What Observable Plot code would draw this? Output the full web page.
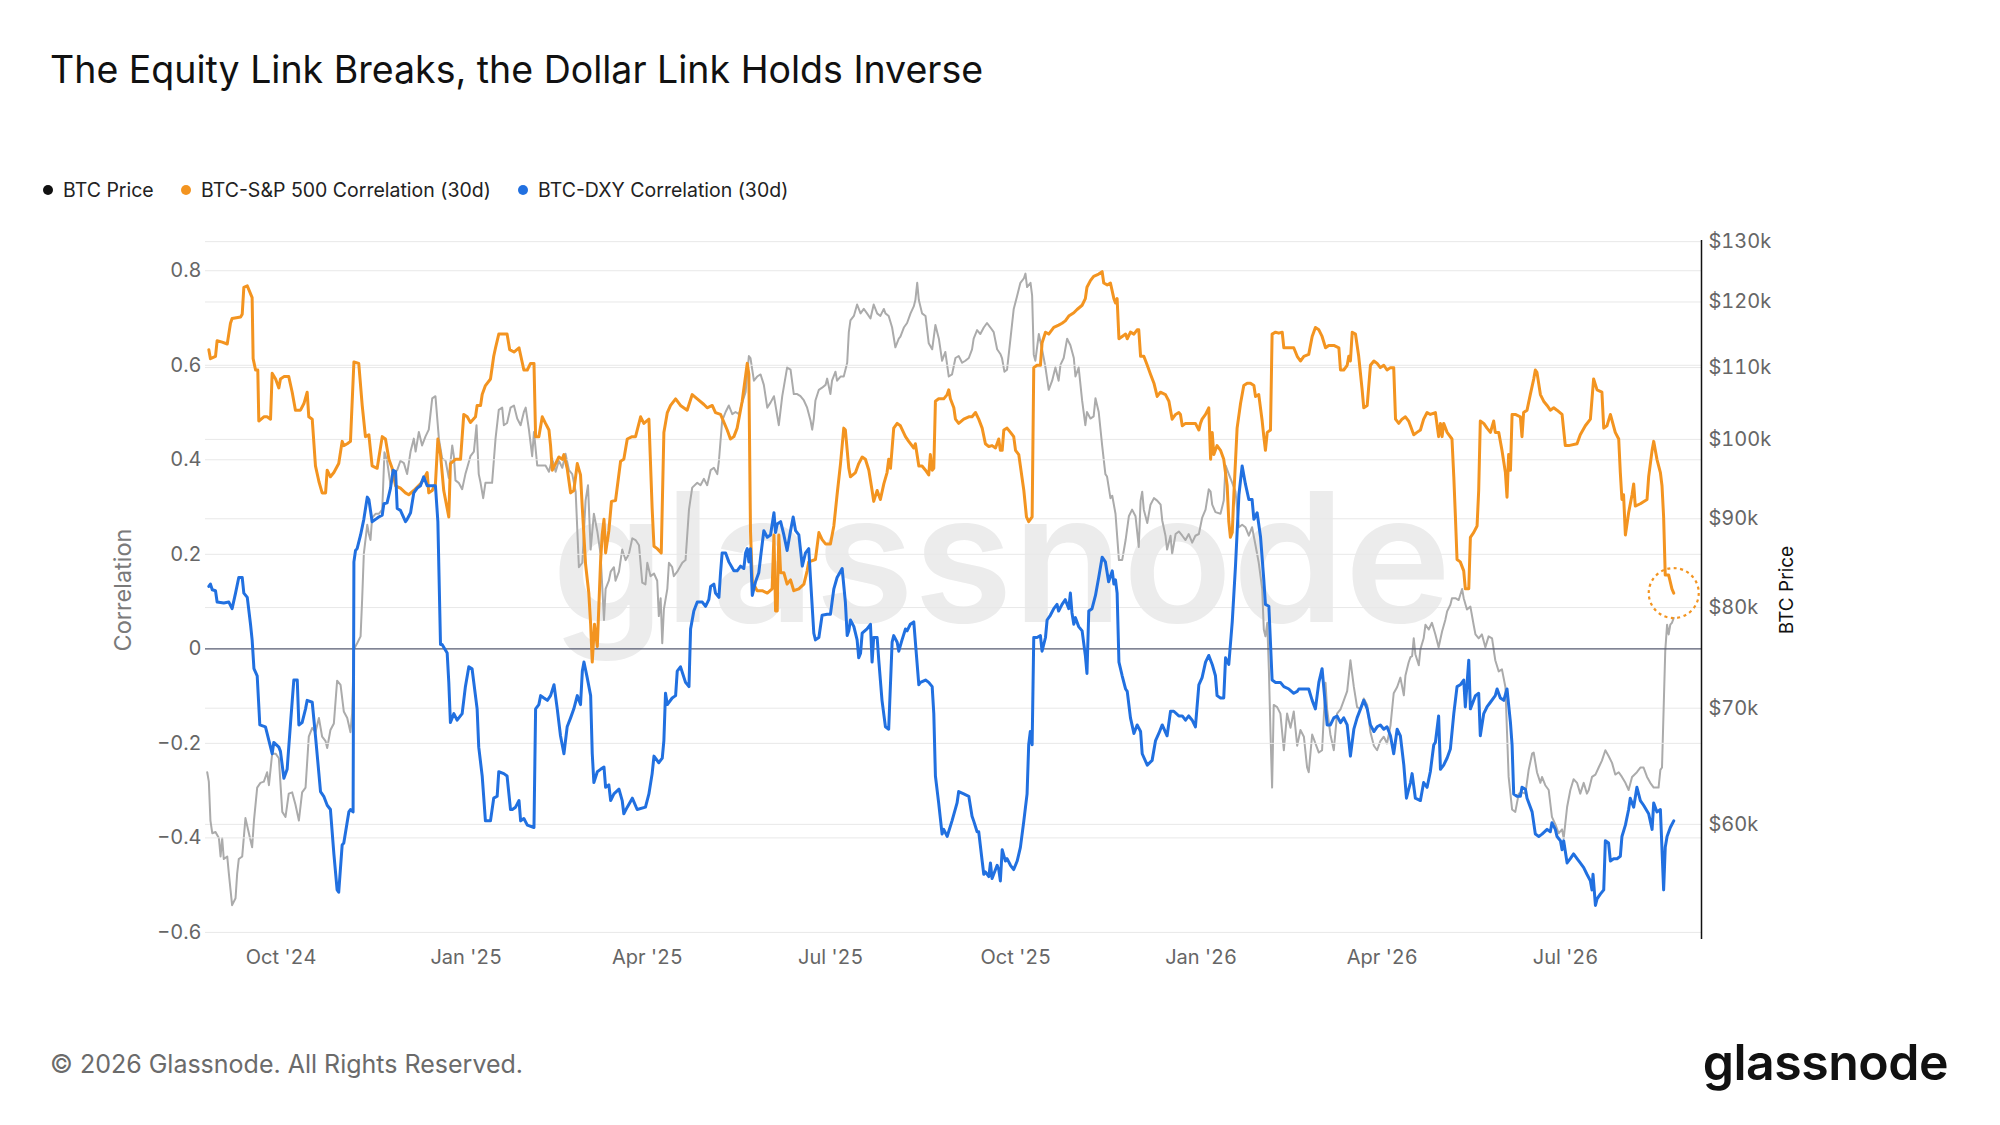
<!DOCTYPE html>
<html><head><meta charset="utf-8">
<script src="https://cdn.jsdelivr.net/npm/d3@7"></script>
<script src="https://cdn.jsdelivr.net/npm/@observablehq/plot@0.6"></script>
<style>
body{margin:0;background:#fff;}
#root{position:relative;width:2000px;height:1125px;overflow:hidden;font-family:Inter,"Noto Sans",sans-serif;background:#fff}
#title{position:absolute;left:50px;top:51px;font-size:37.5px;line-height:1;color:#111;white-space:nowrap}
.item{position:absolute;top:180px;height:20px;display:flex;align-items:center;font-size:19.5px;color:#222;white-space:nowrap}
.dot{width:10px;height:10px;border-radius:50%;margin-right:10px}
.layer{position:absolute;left:0;top:0}
#footer{position:absolute;left:50px;top:1052px;font-size:25px;line-height:1;color:#6b6b6b;white-space:nowrap}
#logo{position:absolute;right:52px;top:1037px;font-size:50px;line-height:1;font-weight:600;color:#111;letter-spacing:-0.5px}
</style></head>
<body>
<div id="root">
  <div id="chart"></div>
  <div id="title">The Equity Link Breaks, the Dollar Link Holds Inverse</div>
  <div id="legend"></div>
  <div id="footer">© 2026 Glassnode. All Rights Reserved.</div>
  <div id="logo">glassnode</div>
</div>
<script>
const startDate = "2024-08-25";
const legendLabels = ["BTC Price", "BTC-S&P 500 Correlation (30d)", "BTC-DXY Correlation (30d)"];
const legendColors = ["#111111", "#f39420", "#2170e0"];
const xTickDates = ["2024-10-01","2025-01-01","2025-04-01","2025-07-01","2025-10-01","2026-01-01","2026-04-01","2026-07-01"];
const corrTicks = [-0.6,-0.4,-0.2,0,0.2,0.4,0.6,0.8];
const priceTicks = [60,70,80,90,100,110,120,130];

const spxCorr = [[0.8,.633],[1.6,.614],[4.1,.619],[4.9,.652],[7.4,.649],[9.9,.645],[11.5,.689],[12.3,.699],[16.5,.702],[17.3,.708],[18.1,.765],[19.8,.768],[22.2,.743],[22.7,.614],[23.9,.590],[25.0,.590],[25.5,.482],[28.0,.491],[29.6,.491],[31.3,.486],[32.1,.583],[33.8,.571],[35.4,.552],[36.2,.571],[37.9,.576],[40.3,.576],[42.0,.543],[43.6,.505],[46.1,.505],[47.8,.519],[49.4,.543],[50.2,.491],[51.9,.486],[53.5,.387],[55.2,.354],[56.8,.330],[58.5,.330],[59.3,.378],[60.9,.364],[62.6,.373],[65.0,.392],[66.7,.439],[67.5,.430],[69.2,.434],[70.8,.439],[72.5,.607],[74.9,.604],[76.6,.515],[78.2,.449],[79.9,.453],[81.5,.387],[84.0,.382],[86.5,.449],[88.1,.444],[89.8,.401],[91.4,.382],[93.1,.345],[95.5,.340],[98.0,.330],[99.6,.326],[102.1,.335],[105.4,.349],[107.0,.359],[108.7,.373],[109.5,.330],[111.2,.335],[112.8,.349],[114.0,.444],[115.3,.411],[116.9,.335],[118.6,.297],[119.4,.279],[120.2,.392],[122.7,.401],[125.2,.401],[126.8,.496],[128.5,.491],[130.1,.479],[132.6,.491],[133.4,.515],[135.1,.515],[135.9,.538],[137.5,.557],[140.0,.571],[141.6,.619],[142.5,.637],[144.1,.666],[148.2,.666],[149.5,.633],
[151.6,.628],[154.1,.637],[156.5,.590],[158.2,.590],[159.8,.604],[161.5,.604],[162.3,.449],[163.9,.449],[165.6,.491],[167.2,.477],[168.9,.463],[169.7,.430],[170.5,.378],[172.2,.392],[173.8,.406],[175.5,.401],[176.3,.411],[177.9,.382],[179.6,.330],[181.2,.335],[182.9,.392],[184.5,.368],[185.4,.297],[187.0,.179],[188.6,.118],[189.5,.052],[190.3,-.028],[191.4,.052],[192.8,.005],[194.4,.184],[195.2,.241],[196.1,.274],[196.9,.203],[198.5,.250],[199.8,.312],[201.8,.314],[204.3,.397],[205.9,.401],[207.6,.444],[210.0,.449],[211.7,.449],[214.2,.491],[215.8,.477],[218.3,.486],[219.9,.297],[220.8,.217],[222.4,.212],[224.4,.203],[225.7,.458],[227.4,.500],[229.0,.515],[231.5,.529],[233.9,.515],[237.2,.505],[239.7,.538],[242.2,.529],[245.5,.517],[247.1,.510],[249.6,.515],[251.2,.500],[253.7,.496],[257.0,.463],[258.6,.444],[260.3,.449],[261.9,.467],[264.4,.524],[266.9,.604],[267.7,.581],[268.5,.250],[269.4,.142],[271.8,.123],[274.3,.123],[276.8,.118],[279.2,.127],[280.1,.241],[280.9,.080],[281.7,.080],[282.5,.241],[283.4,.161],[285.0,.161],[286.6,.137],[288.3,.146],[289.9,.123],[292.4,.127],[294.9,.137],[296.5,.165],
[297.3,.184],[300.6,.189],[302.3,.246],[303.9,.231],[305.6,.222],[308.0,.222],[309.7,.260],[311.3,.326],[313.0,.392],[314.6,.467],[315.4,.463],[317.1,.382],[317.9,.364],[320.4,.373],[322.0,.392],[323.7,.406],[325.3,.401],[327.0,.378],[328.6,.335],[329.4,.312],[331.1,.335],[332.7,.316],[334.4,.349],[336.0,.373],[336.8,.401],[337.7,.382],[339.3,.467],[341.0,.477],[342.6,.472],[345.1,.449],[346.7,.439],[349.2,.425],[350.0,.434],[351.7,.387],[353.3,.387],[355.0,.378],[356.6,.368],[357.4,.411],[358.3,.378],[359.1,.382],[359.9,.524],[361.5,.529],[364.0,.529],[365.7,.538],[366.5,.548],[367.3,.529],[369.0,.510],[369.8,.486],[371.4,.477],[373.9,.486],[376.4,.491],[378.0,.491],[379.7,.500],[381.3,.486],[383.0,.467],[384.6,.434],[386.3,.428],[387.9,.430],[389.6,.425],[391.2,.444],[392.0,.420],[392.9,.420],[393.7,.463],[395.3,.467],[397.0,.458],[398.6,.449],[399.5,.420],[401.1,.411],[403.6,.335],[404.9,.279],[406.0,.269],[407.7,.279],[408.5,.595],[410.1,.600],[411.8,.600],[412.6,.647],[414.3,.670],[415.9,.666],[418.4,.680],[420.8,.685],[422.5,.689],[424.1,.694],[425.8,.704],[428.3,.711],[429.9,.718],[432.4,.727],[434.0,.741],[434.8,.765],[436.5,.779],[438.1,.788],[440.6,.793],[442.3,.798],
[443.1,.774],[444.8,.770],[446.4,.774],[448.1,.741],[448.9,.732],[449.7,.741],[450.6,.656],[452.2,.661],[453.9,.666],[454.7,.656],[456.3,.670],[458.0,.666],[459.6,.675],[460.4,.675],[461.3,.619],[462.9,.619],[464.6,.600],[466.2,.581],[467.9,.562],[469.5,.534],[471.1,.543],[473.6,.538],[475.3,.524],[476.9,.486],[478.6,.496],[480.2,.500],[481.0,.496],[481.9,.472],[483.5,.477],[486.0,.477],[488.4,.477],[490.1,.463],[490.9,.477],[491.7,.486],[493.4,.496],[495.0,.510],[495.9,.401],[496.7,.458],[497.5,.411],[499.1,.430],[500.8,.420],[502.4,.401],[504.1,.345],[504.9,.269],[505.7,.236],[506.6,.246],[507.4,.326],[509.0,.467],[510.7,.519],[512.3,.557],[514.0,.562],[515.6,.562],[517.3,.557],[518.1,.534],[519.7,.538],[521.4,.482],[522.2,.449],[523.0,.420],[523.9,.458],[525.5,.463],[526.3,.666],[528.0,.670],[529.6,.668],[531.3,.670],[532.1,.637],[534.6,.637],[537.0,.637],[538.7,.619],[540.3,.609],[542.0,.619],[544.4,.623],[546.1,.661],[547.7,.680],[549.4,.675],[551.0,.661],[552.7,.637],[554.3,.642],[556.8,.642],[559.3,.637],[560.1,.590],[561.7,.590],[563.4,.600],[564.2,.619],[565.0,.609],[565.9,.670],[567.5,.666],[569.1,.619],[570.8,.548],[571.6,.510],[573.3,.515],[574.9,.600],[576.6,.609],[578.2,.604],[579.8,.595],[581.5,.600],[583.1,.590],[584.8,.595],[586.4,.595],[587.3,.486],[588.9,.477],[590.5,.486],[592.2,.491],[593.8,.482],
[596.3,.453],[597.9,.458],[599.6,.463],[601.2,.486],[602.9,.500],[604.5,.496],[607.0,.500],[608.6,.449],[609.5,.477],[610.3,.449],[611.1,.477],[612.8,.458],[615.2,.444],[616.1,.364],[616.9,.279],[617.7,.189],[619.3,.184],[621.0,.165],[621.8,.127],[623.5,.127],[624.3,.236],[625.9,.246],[627.6,.260],[628.4,.335],[629.2,.482],[630.9,.477],[632.5,.467],[634.2,.458],[635.8,.482],[636.6,.458],[638.3,.458],[639.9,.420],[641.6,.373],[642.4,.321],[643.2,.411],[644.1,.378],[644.9,.496],[646.5,.496],[649.0,.491],[649.8,.449],[650.6,.500],[652.3,.505],[653.9,.538],[655.6,.571],[656.4,.590],[657.2,.585],[658.9,.538],[660.5,.524],[662.2,.515],[663.8,.505],[665.5,.510],[667.1,.505],[669.6,.496],[671.2,.430],[672.9,.430],[677.0,.434],[678.6,.453],[681.1,.472],[683.6,.486],[685.2,.571],[686.9,.548],[689.3,.543],[690.2,.467],[691.8,.472],[693.5,.496],[695.9,.458],[697.6,.444],[698.4,.373],[699.2,.316],[700.0,.326],[700.9,.241],[702.5,.288],[704.2,.326],[705.0,.349],[705.8,.302],[708.3,.307],[711.6,.316],[712.4,.364],[714.1,.420],[714.9,.439],[716.5,.401],[718.2,.373],[719.0,.345],[719.8,.279],[720.6,.156],[722.3,.156],[723.9,.127],[724.8,.118]];

const dxyCorr = [[0.8,.132],[1.6,.137],[2.5,.125],[4.1,.123],[4.9,.099],[8.2,.097],[10.7,.099],[12.3,.085],[14.0,.118],[15.6,.151],[17.3,.151],[18.1,.118],[19.8,.109],[21.4,.052],[22.2,.019],[23.1,-.042],[24.7,-.057],[26.0,-.161],[28.8,-.165],[30.5,-.194],[32.1,-.222],[32.9,-.198],[35.4,-.208],[36.2,-.217],[37.9,-.274],[39.5,-.255],[41.2,-.156],[42.8,-.066],[44.5,-.066],[45.3,-.161],[46.9,-.156],[48.6,-.127],[49.4,-.109],[51.9,-.113],[53.5,-.184],[56.0,-.302],[57.6,-.312],[59.3,-.331],[60.9,-.340],[62.6,-.434],[64.2,-.510],[65.0,-.515],[66.7,-.415],[67.5,-.411],[70.0,-.345],[70.8,-.340],[72.1,-.345],[72.5,.184],[73.3,.208],[74.1,.212],[75.8,.241],[77.4,.274],[79.1,.321],[79.9,.316],[81.5,.269],[83.2,.274],[84.8,.279],[86.5,.283],[87.3,.307],[88.9,.309],[90.6,.340],[91.9,.378],[93.1,.375],[93.9,.297],[95.5,.293],[98.0,.269],[98.8,.274],[100.5,.288],[102.1,.330],[103.8,.340],[105.4,.345],[107.0,.364],[108.7,.345],[110.3,.345],[112.8,.345],[114.0,.269],[115.3,.009],[116.1,.009],[118.6,-.009],[119.4,-.071],[120.2,-.156],[121.9,-.137],[123.5,-.151],[126.0,-.137],[127.6,-.080],[129.3,-.038],[130.9,-.042],[133.4,-.127],[134.2,-.208],[135.9,-.269],[137.5,-.364],[140.0,-.364],[141.6,-.316],[143.3,-.312],[144.1,-.260],[146.6,-.264],[148.2,-.269],[149.9,-.340],
[150.8,-.340],[152.4,-.335],[154.1,-.321],[154.9,-.364],[156.5,-.359],[158.2,-.373],[161.5,-.378],[162.3,-.127],[163.9,-.118],[164.8,-.099],[166.4,-.104],[168.1,-.109],[169.7,-.099],[171.4,-.076],[173.0,-.127],[174.6,-.184],[176.3,-.222],[177.9,-.165],[179.6,-.146],[181.2,-.127],[182.9,-.099],[184.5,-.118],[185.4,-.047],[186.2,-.028],[187.8,-.061],[189.5,-.099],[190.3,-.222],[191.1,-.283],[192.8,-.260],[194.4,-.255],[196.1,-.250],[196.9,-.293],[198.5,-.288],[199.4,-.321],[201.0,-.307],[203.5,-.297],[205.1,-.321],[205.9,-.349],[207.6,-.335],[210.1,-.316],[212.5,-.340],[216.6,-.335],[218.3,-.307],[219.9,-.264],[220.8,-.227],[223.2,-.241],[224.9,-.231],[225.7,-.194],[226.5,-.094],[227.4,-.118],[229.8,-.104],[231.5,-.099],[232.3,-.047],[233.9,-.038],[236.4,-.071],[238.1,-.080],[238.9,.042],[240.5,.080],[242.2,.099],[244.7,.099],[246.3,.090],[247.9,.104],[248.8,.132],[250.4,.137],[251.2,.118],[252.9,.109],[253.7,.161],[254.5,.203],[256.2,.203],[257.8,.184],[260.3,.165],[261.9,.165],[263.6,.175],[265.2,.170],[266.1,.203],[266.9,.212],[267.7,.184],[268.5,.212],[269.4,.113],[271.0,.142],[272.6,.161],[273.5,.194],[275.1,.250],[276.8,.236],[278.4,.241],[280.1,.288],[280.9,.246],[281.7,.264],[283.4,.269],[285.0,.241],[286.6,.208],[288.3,.250],[289.6,.279],[290.8,.250],[292.4,.241],[294.1,.175],[295.7,.203],[297.3,.212],[298.2,.146],
[299.8,.033],[300.6,.019],[302.3,.024],[303.9,.071],[306.4,.073],[308.0,.073],[309.7,.127],[311.3,.151],[313.8,.170],[315.4,.099],[316.3,.028],[317.1,.038],[317.9,.061],[319.6,.047],[321.2,.019],[322.0,-.019],[322.9,-.009],[323.7,.033],[326.1,.042],[327.8,.052],[328.6,-.028],[329.4,.024],[331.1,.024],[331.9,-.024],[333.5,-.109],[335.2,-.165],[336.8,-.170],[338.5,.014],[339.3,.028],[341.0,.014],[341.8,-.005],[343.4,.019],[345.1,.042],[345.9,.038],[347.5,.052],[349.2,.057],[351.7,-.076],[352.5,-.071],[355.0,-.066],[356.6,-.071],[358.3,-.080],[359.1,-.137],[359.9,-.269],[361.5,-.326],[363.2,-.392],[364.0,-.382],[365.7,-.397],[368.1,-.364],[370.6,-.326],[371.4,-.302],[373.9,-.307],[376.4,-.312],[378.0,-.354],[378.8,-.364],[380.5,-.387],[381.3,-.387],[383.0,-.449],[383.8,-.477],[384.6,-.472],[386.3,-.482],[387.1,-.453],[387.9,-.486],[388.7,-.477],[390.4,-.458],[391.2,-.467],[392.0,-.491],[392.9,-.425],[394.5,-.449],[395.3,-.444],[397.0,-.458],[398.6,-.467],[400.3,-.449],[401.9,-.420],[403.6,-.364],[405.2,-.307],[406.0,-.203],[406.8,-.175],[407.7,-.203],[408.5,.024],[410.1,.024],[411.8,.028],[412.6,-.005],[414.3,.024],[415.1,.061],[416.7,.071],[418.4,.085],[420.0,.094],[420.8,.080],[422.5,.094],[424.1,.104],[425.8,.085],[426.6,.118],[427.4,.076],[428.3,.052],[429.1,.066],[430.7,.047],[432.4,.038],[434.0,-.014],[434.8,-.052],[435.7,.080],[437.3,.085],[439.0,.113],[440.6,.151],[442.3,.194],[443.9,.184],[445.5,.142],
[447.3,.165],[448.1,.137],[448.9,.146],[449.7,.118],[450.6,-.028],[452.2,-.057],[453.9,-.085],[454.7,-.090],[456.3,-.146],[458.0,-.179],[459.6,-.161],[461.3,-.175],[462.1,-.222],[464.6,-.246],[467.0,-.236],[468.7,-.194],[470.3,-.179],[472.0,-.161],[474.4,-.184],[476.1,-.132],[477.7,-.132],[480.2,-.142],[481.9,-.142],[483.5,-.151],[485.1,-.142],[486.8,-.151],[488.4,-.165],[490.1,-.076],[491.7,-.061],[493.4,-.028],[495.0,-.014],[496.7,-.033],[498.3,-.057],[499.1,-.099],[500.8,-.104],[502.4,-.104],[503.3,-.019],[504.9,-.033],[506.6,.057],[508.2,.175],[509.9,.326],[511.5,.387],[513.1,.349],[514.8,.316],[516.4,.316],[517.3,.274],[518.9,.288],[520.6,.236],[522.2,.146],[523.0,.094],[524.7,.090],[526.3,-.066],[528.0,-.071],[530.4,-.071],[532.1,-.080],[534.6,-.085],[537.0,-.094],[538.7,-.090],[539.5,-.085],[542.0,-.085],[544.4,-.085],[546.1,-.109],[547.7,-.127],[549.4,-.071],[551.0,-.042],[551.8,-.080],[553.5,-.161],[555.1,-.161],[556.8,-.146],[558.4,-.142],[560.1,-.156],[561.7,-.146],[563.4,-.161],[565.0,-.227],[566.7,-.170],[568.3,-.146],[570.0,-.127],[571.6,-.109],[573.3,-.127],[574.9,-.161],[576.6,-.175],[578.2,-.165],[579.8,-.161],[581.5,-.170],[583.1,-.165],[584.8,-.184],[586.4,-.222],[588.1,-.170],[589.7,-.184],[591.4,-.246],[592.7,-.316],[593.8,-.297],[594.7,-.283],
[595.5,-.264],[597.1,-.316],[599.6,-.321],[601.2,-.283],[602.9,-.293],[604.5,-.260],[606.2,-.203],[607.0,-.198],[608.6,-.142],[609.5,-.255],[611.1,-.246],[612.8,-.231],[614.4,-.212],[616.1,-.137],[617.7,-.080],[619.3,-.076],[621.0,-.066],[621.8,-.123],[623.5,-.024],[624.3,-.127],[625.9,-.109],[626.8,-.099],[628.4,-.094],[629.2,-.184],[630.9,-.137],[632.5,-.123],[634.2,-.113],[636.6,-.099],[637.5,-.085],[639.1,-.104],[640.8,-.109],[642.4,-.085],[644.1,-.156],[644.9,-.203],[645.7,-.307],[647.3,-.312],[649.0,-.312],[649.8,-.293],[651.5,-.297],[652.3,-.316],[654.8,-.345],[656.4,-.392],[658.1,-.397],[659.7,-.392],[662.2,-.382],[663.8,-.387],[664.6,-.368],[666.3,-.382],[667.1,-.397],[668.8,-.406],[669.6,-.425],[670.4,-.406],[672.1,-.453],[673.7,-.444],[675.3,-.434],[677.0,-.444],[678.6,-.453],[680.3,-.463],[681.9,-.477],[683.6,-.491],[684.4,-.510],[684.9,-.477],[686.1,-.543],[686.9,-.529],[688.5,-.519],[690.2,-.510],[691.0,-.406],[692.6,-.411],[693.5,-.449],[695.1,-.444],[696.8,-.444],[698.4,-.439],[699.2,-.397],[700.9,-.373],[702.5,-.340],[703.3,-.316],[705.0,-.335],[706.6,-.293],[708.3,-.321],[709.9,-.331],[712.4,-.349],[714.1,-.382],[714.9,-.326],[716.5,-.345],[718.2,-.340],[719.8,-.510],[720.6,-.420],[721.5,-.397],[723.1,-.378],[724.8,-.364]];

const btcPriceK = [[0.0,64.3],[0.8,63.5],[1.6,60.3],[2.5,59.3],[4.1,59.4],[5.8,58.9],[6.6,57.5],[7.4,58.9],[8.2,57.3],[9.9,57.5],[10.7,56.2],[12.3,53.9],[14.0,54.4],[14.8,56.2],[15.6,57.3],[17.3,57.5],[18.9,60.5],[20.6,59.3],[22.2,58.2],[23.1,60.3],[24.7,63.0],[26.3,63.4],[28.0,63.5],[29.6,64.3],[30.5,63.2],[32.1,65.9],[33.8,65.9],[35.4,65.5],[37.1,61.0],[38.7,60.6],[40.3,62.5],[42.0,62.6],[43.6,61.6],[45.3,60.3],[46.9,62.6],[48.6,63.0],[50.2,67.4],[51.9,68.2],[53.5,67.8],[55.2,69.1],[56.8,67.4],[58.5,67.0],[59.3,66.4],[60.9,68.0],[62.6,68.6],[64.2,72.6],[65.9,72.2],[67.5,69.7],[69.2,69.1],[70.8,67.8],[71.6,69.5],[72.5,75.7],[74.1,76.3],[75.8,77.0],[76.6,81.0],[77.4,85.9],[79.1,89.3],[79.9,88.2],[80.7,87.5],[81.5,90.1],[83.2,90.6],[84.8,90.6],[86.5,91.1],[87.6,98.3],[88.9,97.2],[90.6,94.1],[92.2,95.5],[93.9,96.0],[95.5,97.2],[97.2,96.9],[98.8,95.5],[100.5,98.4],[102.1,100.1],[103.0,98.4],[104.6,101.0],[106.2,99.2],[107.9,100.4],[109.5,101.3],[111.2,105.6],[112.8,105.9],[114.5,100.1],[116.1,97.5],[117.8,97.2],[119.4,95.0],[121.1,99.2],[121.9,97.8],[122.7,94.7],[124.3,94.4],[126.0,93.6],[127.6,95.5],[128.5,96.3],[130.1,97.8],[131.8,98.4],[133.1,101.9],[134.2,95.5],[135.1,94.4],[136.4,92.5],[137.5,94.4],[139.2,94.4],[140.8,94.4],[142.5,100.1],[144.1,104.0],[145.8,104.3],[146.6,101.9],[148.2,102.2],[149.9,104.3],
[151.6,104.6],[153.2,102.8],[154.9,101.9],[156.5,103.7],[157.4,104.3],[159.0,101.3],[160.6,97.8],[161.5,101.0],[163.1,96.6],[165.6,96.6],[167.2,96.6],[168.9,95.8],[170.5,97.5],[172.2,95.8],[173.8,97.2],[175.5,96.3],[177.1,98.1],[178.8,96.0],[180.4,95.5],[182.1,93.3],[183.7,84.4],[185.4,84.9],[187.0,92.2],[188.2,94.1],[189.5,86.4],[191.1,90.6],[192.8,88.5],[194.4,85.9],[196.1,78.7],[196.9,82.0],[198.5,82.9],[199.4,83.9],[201.0,84.4],[201.8,82.9],[203.5,83.9],[205.1,86.4],[206.8,85.2],[208.4,85.9],[210.1,87.7],[211.7,87.5],[213.4,86.9],[215.0,82.7],[216.6,82.5],[217.5,84.9],[219.1,83.4],[220.8,83.7],[222.4,82.9],[223.2,79.1],[224.1,81.0],[224.9,76.3],[225.7,79.8],[227.4,82.0],[228.2,84.9],[229.8,84.4],[230.6,83.4],[232.3,83.9],[234.8,84.9],[236.4,85.2],[238.1,91.1],[239.7,93.8],[242.2,94.4],[243.8,94.1],[245.5,94.9],[247.1,94.1],[248.8,96.0],[250.4,96.3],[252.1,95.5],[252.9,97.2],[254.5,102.5],[256.2,103.7],[257.8,104.6],[259.5,103.4],[261.1,103.7],[262.8,103.4],[264.4,105.0],[266.1,106.5],[267.7,111.7],[268.5,111.4],[270.2,108.1],[271.8,108.7],[273.5,109.0],[275.1,107.5],[276.8,104.3],[278.4,105.0],[280.1,105.9],[282.5,101.9],[284.2,105.9],[286.6,110.0],[288.3,109.7],[289.9,106.2],[291.6,106.2],[293.2,105.9],[294.9,105.3],[296.5,104.3],[298.2,102.5],
[299.0,101.3],[299.8,102.8],[300.6,105.3],[302.3,106.8],[303.9,107.1],[305.6,107.5],[306.4,108.4],[308.0,106.2],[308.8,108.1],[310.5,109.4],[311.3,108.1],[313.0,108.7],[314.6,108.7],[316.3,110.7],[317.1,115.3],[317.9,117.1],[319.6,117.8],[321.2,119.6],[322.9,118.2],[324.5,118.9],[326.1,118.2],[327.8,117.4],[329.4,119.6],[331.1,118.2],[332.7,117.8],[334.4,118.9],[335.2,118.2],[336.8,117.8],[338.5,116.0],[340.1,113.0],[341.8,114.3],[342.6,114.6],[344.3,116.0],[345.9,116.7],[347.6,118.2],[349.2,119.3],[350.0,120.3],[350.9,123.1],[351.7,120.3],[353.3,118.2],[355.0,117.8],[356.6,113.6],[358.3,112.7],[359.9,116.4],[361.6,114.3],[363.2,111.0],[364.8,112.3],[366.5,108.7],[368.1,109.0],[369.8,111.4],[371.4,111.7],[373.1,110.7],[374.7,111.0],[376.4,111.4],[378.0,112.7],[378.8,114.3],[380.5,115.6],[382.1,115.0],[383.8,116.0],[385.4,116.7],[387.1,116.0],[388.7,115.3],[390.4,112.7],[392.0,112.0],[392.8,111.4],[394.0,109.4],[395.3,109.7],[397.0,114.3],[398.6,118.9],[400.3,121.0],[401.9,123.1],[403.6,123.8],[404.4,124.6],[405.2,122.4],[406.9,123.1],[407.7,121.0],[408.5,111.9],[409.3,111.0],[411.0,115.0],[412.6,112.7],[414.3,110.0],[415.9,106.8],[417.6,108.1],[419.2,110.0],[420.8,108.1],[421.7,110.4],[423.3,111.4],[425.0,114.3],[426.6,113.3],[428.3,111.4],[429.1,108.7],[430.7,110.0],[432.4,105.3],[434.0,101.9],[434.8,103.7],[436.5,102.8],[438.1,103.1],[439.0,105.6],[440.6,103.7],[442.3,99.2],[443.9,95.5],[444.7,95.2],[446.4,92.5],[447.3,92.8],
[448.9,90.6],[450.6,85.2],[452.2,85.2],[453.9,87.5],[455.5,90.3],[457.1,91.1],[458.8,90.3],[460.4,86.7],[461.3,92.2],[462.1,93.3],[462.9,91.1],[464.6,89.5],[466.2,91.7],[467.9,92.5],[469.5,92.2],[471.2,91.7],[472.0,89.8],[473.6,88.0],[474.4,86.4],[476.1,88.0],[476.9,85.9],[478.6,88.2],[480.2,88.5],[481.9,88.0],[483.5,87.5],[485.1,88.2],[486.8,87.2],[488.4,88.0],[490.1,88.2],[491.7,90.1],[493.4,91.1],[495.0,93.6],[495.9,93.3],[496.7,91.7],[498.3,90.8],[500.8,90.6],[502.4,92.2],[503.3,96.6],[504.9,95.5],[506.6,94.4],[508.2,93.3],[509.9,89.0],[511.5,89.3],[513.1,89.0],[514.8,88.0],[516.4,89.0],[518.1,86.9],[519.7,84.9],[521.4,82.0],[522.2,77.7],[523.0,77.0],[523.9,78.4],[524.7,73.7],[525.5,67.8],[526.3,63.0],[527.1,70.3],[528.8,70.1],[530.4,69.5],[532.1,66.2],[533.7,69.5],[535.4,68.2],[537.0,69.7],[538.7,66.6],[540.3,68.0],[542.0,67.4],[543.6,64.7],[544.4,64.3],[546.1,67.6],[547.7,66.8],[549.4,66.0],[551.0,66.2],[552.7,72.4],[553.5,69.9],[555.1,67.6],[556.8,66.2],[558.4,69.5],[560.1,69.9],[561.7,70.7],[563.4,71.6],[565.0,74.6],[566.7,72.0],[568.3,70.1],[570.0,69.9],[571.6,70.9],[573.3,70.3],[574.9,67.8],[576.6,66.6],[578.2,66.2],[579.8,67.0],[581.5,67.4],[583.1,66.8],[584.8,68.4],[586.4,71.4],[588.1,72.0],[589.7,72.9],[591.4,71.2],[592.2,73.1],[593.8,74.4],[594.7,74.9],
[595.5,75.0],[596.3,76.8],[597.1,75.2],[598.8,74.1],[599.6,75.7],[601.2,76.8],[602.1,78.2],[603.7,77.7],[605.3,78.4],[607.0,77.2],[608.6,75.9],[610.3,77.5],[611.9,78.7],[612.8,79.6],[614.4,80.3],[615.2,81.0],[616.9,81.0],[618.5,80.8],[620.2,82.0],[621.0,81.0],[622.6,79.8],[624.3,80.1],[625.9,78.2],[626.8,77.2],[628.4,76.8],[630.0,77.2],[631.7,75.9],[633.3,77.0],[635.0,76.8],[636.6,74.6],[638.3,73.5],[639.9,73.7],[641.6,72.0],[642.4,67.8],[643.2,63.9],[644.9,61.2],[646.5,61.0],[648.2,62.5],[649.8,62.6],[651.5,62.5],[653.1,64.5],[654.8,65.9],[655.6,66.0],[657.2,64.3],[658.9,63.4],[659.7,63.9],[661.3,63.2],[663.0,62.8],[664.6,60.6],[666.3,60.0],[667.9,59.3],[669.6,59.6],[670.4,58.9],[672.1,61.4],[673.7,62.8],[675.3,63.7],[677.0,63.4],[678.6,62.5],[680.3,63.4],[681.9,62.5],[682.8,62.8],[684.4,63.9],[686.1,64.1],[687.7,64.7],[689.3,65.3],[691.0,66.2],[692.6,65.7],[694.3,65.1],[695.9,64.1],[697.6,64.3],[699.2,63.9],[700.9,63.4],[702.5,62.8],[704.2,63.9],[706.6,64.3],[708.3,64.7],[709.9,64.7],[711.6,63.9],[713.2,63.4],[714.9,63.0],[717.3,63.0],[718.2,64.5],[719.0,64.7],[719.8,69.9],[720.6,75.5],[721.5,78.2],[722.3,77.2],[723.1,78.2],[723.9,78.4],[724.8,78.9]];

// ---- build ----
// the read-off index runs slightly faster than calendar days: day = 0.3 + 1.00512 * index
const t0 = Date.parse(startDate + "T00:00:00Z");
const MS_DAY = 864e5;
const toDate = i => new Date(t0 + (0.3 + 1.00512 * i) * MS_DAY);
const xDomain = [new Date(t0 - 0.55 * MS_DAY), new Date(t0 + 742.6 * MS_DAY)];
const W = 2000, H = 1125;
const corrDomain = [-0.615, 0.864];
const priceDomain = [51.5, 130.2];

const spxTable = spxCorr.map(([d, v]) => ({date: toDate(d), value: v}));
const dxyTable = dxyCorr.map(([d, v]) => ({date: toDate(d), value: v}));
const btcTable = btcPriceK.map(([d, v]) => ({date: toDate(d), value: v}));
const spxLast = spxTable[spxTable.length - 1];

// legend
const legendX = [43, 181, 518];
const legendEl = document.getElementById("legend");
legendLabels.forEach((lab, i) => {
  const it = document.createElement("div");
  it.className = "item";
  it.style.left = legendX[i] + "px";
  const dot = document.createElement("span");
  dot.className = "dot";
  dot.style.background = legendColors[i];
  const txt = document.createElement("span");
  txt.textContent = lab;
  it.appendChild(dot); it.appendChild(txt);
  legendEl.appendChild(it);
});

const fontFamily = "Inter, 'Noto Sans', sans-serif";

const pricePlot = Plot.plot({
  width: W, height: H, marginTop: 240, marginRight: 299, marginBottom: 186, marginLeft: 205,
  style: {background: "white", fontFamily, overflow: "visible"},
  x: {type: "utc", domain: xDomain, axis: null},
  y: {type: "log", domain: priceDomain, axis: null},
  marks: [
    Plot.text(["glassnode"], {text: d => d, frameAnchor: "middle", textAnchor: "middle", dx: 48, dy: -26, fontSize: 180, fontWeight: 600, fill: "#ececec"}),
    Plot.gridY(priceTicks, {stroke: "#e8e8e8", strokeOpacity: 1}),
    Plot.line(btcTable, {x: "date", y: "value", stroke: "#ababab", strokeWidth: 2}),
    Plot.axisY(priceTicks, {anchor: "right", tickSize: 0, tickPadding: 7, tickFormat: d => `$${d}k`, fontSize: 20, color: "#666", label: null}),
    Plot.text(["BTC Price"], {text: d => d, frameAnchor: "right", textAnchor: "middle", dx: 85, rotate: -90, fontSize: 19, fill: "#111"})
  ]
});

const corrPlot = Plot.plot({
  width: W, height: H, marginTop: 240, marginRight: 299, marginBottom: 186, marginLeft: 205,
  style: {background: "transparent", fontFamily, overflow: "visible"},
  x: {type: "utc", domain: xDomain},
  y: {domain: corrDomain},
  marks: [
    Plot.gridY(corrTicks.filter(t => t !== 0), {stroke: "#e8e8e8", strokeOpacity: 1}),
    Plot.ruleY([0], {stroke: "#565b70", strokeWidth: 1.2}),
    Plot.line(spxTable, {x: "date", y: "value", stroke: legendColors[1], strokeWidth: 3}),
    Plot.line(dxyTable, {x: "date", y: "value", stroke: legendColors[2], strokeWidth: 3}),
    Plot.dot([spxLast], {x: "date", y: "value", r: 25, stroke: legendColors[1], strokeWidth: 2.2, strokeDasharray: "3,3.5", fill: "none"}),
    Plot.ruleX([xDomain[1]], {stroke: "#111", strokeWidth: 1.5}),
    Plot.axisY(corrTicks, {anchor: "left", tickSize: 0, tickPadding: 4, tickFormat: d => d === 0 ? "0" : d3.format(".1f")(d), fontSize: 20, color: "#666", label: null}),
    Plot.axisX(xTickDates.map(s => new Date(s + "T00:00:00Z")), {tickSize: 0, tickPadding: 10, tickFormat: d3.utcFormat("%b '%y"), fontSize: 20, color: "#666", label: null}),
    Plot.text(["Correlation"], {text: d => d, frameAnchor: "left", textAnchor: "middle", dx: -82, rotate: -90, fontSize: 23.5, fill: "#7a7a7a"})
  ]
});

const chart = document.getElementById("chart");
pricePlot.classList.add("layer");
corrPlot.classList.add("layer");
chart.appendChild(pricePlot);
chart.appendChild(corrPlot);
</script>
</body></html>
